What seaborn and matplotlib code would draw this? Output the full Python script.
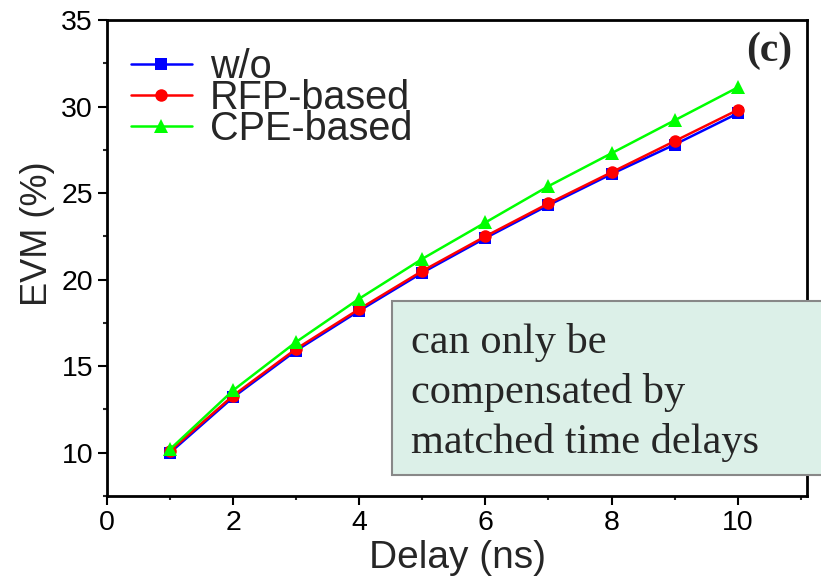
import pandas as pd
import matplotlib.pyplot as plt
import seaborn as sns
from matplotlib.patches import Rectangle
from matplotlib.ticker import MultipleLocator

delay = [1, 2, 3, 4, 5, 6, 7, 8, 9, 10]
evm_wo = [10.0, 13.2, 15.9, 18.2, 20.4, 22.4, 24.3, 26.1, 27.8, 29.6]
evm_rfp = [10.1, 13.3, 16.0, 18.3, 20.5, 22.5, 24.4, 26.2, 28.0, 29.8]
evm_cpe = [10.2, 13.6, 16.4, 18.9, 21.2, 23.3, 25.4, 27.3, 29.2, 31.1]
labels = ['w/o', 'RFP-based', 'CPE-based']
note = 'can only be\ncompensated by\nmatched time delays'

sns.set_theme(style="ticks")
plt.rcParams['font.family'] = ['Liberation Sans', 'DejaVu Sans']

fig = plt.figure(figsize=(8.21, 5.79), dpi=100)
ax = fig.add_axes([0.1303, 0.1434, 0.8527, 0.8221])

series = [(evm_wo, '#0000ff', 's', 8), (evm_rfp, '#ff0000', 'o', 9), (evm_cpe, '#00ff00', '^', 10)]
for (vals, col, mk, ms), lab in zip(series, labels):
    df = pd.DataFrame({'delay': delay, 'evm': vals})
    sns.lineplot(data=df, x='delay', y='evm', color=col, marker=mk, markersize=ms,
                 markeredgewidth=0, linewidth=1.8, label=lab, ax=ax)

ax.set_xlim(0, 11.1)
ax.set_ylim(7.5, 35)
ax.xaxis.set_major_locator(MultipleLocator(2))
ax.xaxis.set_minor_locator(MultipleLocator(1))
ax.yaxis.set_major_locator(MultipleLocator(5))
ax.yaxis.set_minor_locator(MultipleLocator(2.5))
ax.tick_params(which='major', length=6.5, width=1.5, labelsize=20.5, colors='black')
ax.tick_params(which='minor', length=3, width=1.5)
for s in ax.spines.values():
    s.set_linewidth(2)
    s.set_color('black')
ax.set_xlabel('Delay (ns)', fontsize=28, labelpad=3)
ax.set_ylabel('EVM (%)', fontsize=26)
ax.yaxis.set_label_coords(-0.074, 0.55)

ax.legend(loc='upper left', bbox_to_anchor=(0.011, 0.975), frameon=False, fontsize=28.5,
          handlelength=1.55, handletextpad=0.45, labelspacing=-0.17, borderaxespad=0.0)

ax.text(0.979, 0.975, '(c)', transform=ax.transAxes, ha='right', va='top',
        fontsize=30, fontweight='bold', family='Liberation Serif')

# annotation box, runs past the right spine to the figure edge
fig.patches.append(Rectangle((0.4775, 0.1796), 0.54, 0.3005, transform=fig.transFigure,
                             facecolor='#dcf0e8', edgecolor='#888888', linewidth=1.5,
                             zorder=5, clip_on=False))
fig.text(0.5, 0.443, note, ha='left', va='top', fontsize=30.5, family='Liberation Serif',
         linespacing=1.38, zorder=6)

fig.savefig('out.png', dpi=100)
